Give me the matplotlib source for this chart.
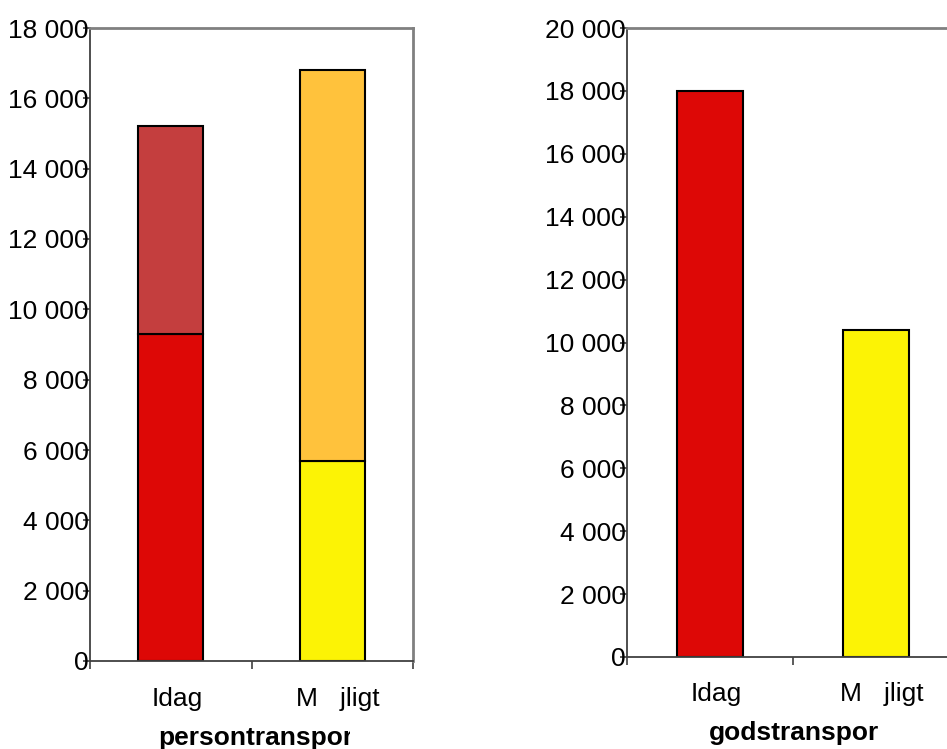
import matplotlib.pyplot as plt
from matplotlib.patches import Rectangle
from matplotlib.transforms import offset_copy

plt.rcParams['font.family'] = ['Liberation Sans', 'DejaVu Sans']

# data
categories = ['Idag', 'M   jligt']
person_low = [9300, 5700]
person_high = [5900, 11100]
gods = [18000, 10400]

person_ticks = list(range(0, 18001, 2000))
gods_ticks = list(range(0, 20001, 2000))

W, H = 947, 749
fig = plt.figure(figsize=(W / 100, H / 100), dpi=100)


def fmt(v):
    return f'{v:,}'.replace(',', ' ')


def style(ax, ticks):
    ax.set_xlim(0, 2)
    ax.set_ylim(0, ticks[-1])
    ax.set_yticks(ticks)
    ax.set_yticklabels([fmt(t) for t in ticks], fontsize=19)
    ax.set_xticks([0, 1, 2])
    ax.set_xticklabels([])
    ax.tick_params(axis='y', direction='out', length=5, width=1.2, color='#404040', pad=-4)
    ax.tick_params(axis='x', direction='out', length=6, width=1.2, color='#404040')
    for s in ['left', 'bottom']:
        ax.spines[s].set_color('#404040')
        ax.spines[s].set_linewidth(1.3)
    for s in ['top', 'right']:
        ax.spines[s].set_color('#808080')
        ax.spines[s].set_linewidth(2)
    tr = offset_copy(ax.transData, fig=fig, x=6, y=-1, units='dots')
    for i, c in enumerate(categories):
        ax.text(i + 0.5, -0.058 * ticks[-1], c, ha='center', va='center', fontsize=19,
                transform=tr, clip_on=False)


# left chart: persontransport
ax1 = fig.add_axes([90 / W, 1 - 661 / H, (413 - 90) / W, (661 - 28) / H])
x = [0.5, 1.5]
ax1.bar(x, person_low, width=0.4, color=['#DD0806', '#FCF305'], edgecolor='black', linewidth=1.5)
ax1.bar(x, person_high, width=0.4, bottom=person_low, color=['#C43E3E', '#FFC23C'],
        edgecolor='black', linewidth=1.5)
style(ax1, person_ticks)

# right chart: godstransport (runs past the right edge)
ax2 = fig.add_axes([627 / W, 1 - 657 / H, (959 - 627) / W, (657 - 28) / H])
ax2.bar(x, gods, width=0.4, color=['#DD0806', '#FCF305'], edgecolor='black', linewidth=1.5)
style(ax2, gods_ticks)
ax2.spines['right'].set_visible(False)

# bottom titles, cut off on the right like in the original
fig.text(158 / W, 1 - 738 / H, 'persontransport', ha='left', va='center',
         fontsize=19, fontweight='bold')
fig.text(709 / W, 1 - 733 / H, 'godstransport', ha='left', va='center',
         fontsize=19, fontweight='bold')
fig.add_artist(Rectangle((350 / W, 0), 60 / W, 25 / H, transform=fig.transFigure,
                         facecolor='white', edgecolor='none', zorder=10))
fig.add_artist(Rectangle((878 / W, 0), 69 / W, 30 / H, transform=fig.transFigure,
                         facecolor='white', edgecolor='none', zorder=10))

fig.savefig('out.png', dpi=100)
